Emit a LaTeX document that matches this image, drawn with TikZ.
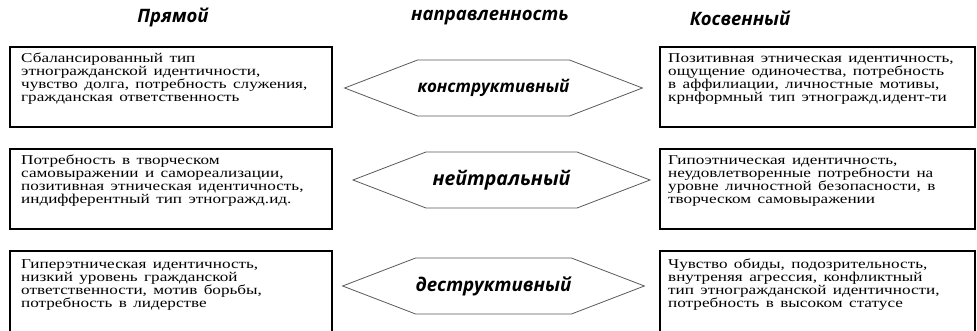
\documentclass[tikz,border=0pt]{standalone}
\usepackage{fontspec}
\setmainfont{Liberation Serif}
\newfontfamily\boxfont[FakeStretch=1.27,WordSpace={1.5,1.2,0.5}]{Liberation Serif}
\newfontfamily\headfont{Open Sans}
\usetikzlibrary{shapes.symbols}
\begin{document}
\begin{tikzpicture}[x=1pt,y=-1pt,
    frame/.style={draw,line width=2.4pt,minimum width=322pt,inner sep=0pt},
    hexlabel/.style={draw=black!65,line width=0.8pt,signal,signal to=west and east,
      signal pointer angle=42,minimum width=297pt,minimum height=56pt,inner sep=0pt,
      font=\headfont\bfseries\itshape\fontsize{17}{20}\selectfont},
    boxtext/.style={anchor=north west,align=left,inner sep=0pt,
      font=\boxfont\fontsize{13.5}{13}\selectfont},
    title/.style={font=\headfont\bfseries\itshape\fontsize{18.5}{22}\selectfont}]
      \useasboundingbox (0,0) rectangle (977,331);
      \clip (0,0) rectangle (977,331);
      \node[title] (p) at (173,18) {Прямой};
      \node[title] (n) at (490,18) {направленность};
      \node[title] (k) at (740,18) {Косвенный};
      \node[frame,minimum height=80pt] (l1) at (171,87) {};
      \node[frame,minimum height=80pt] (l2) at (171,189) {};
      \node[frame,minimum height=94pt] (l3) at (171,298) {};
      \node[frame,minimum width=315pt,minimum height=80pt] (r1) at (817.5,87) {};
      \node[frame,minimum width=315pt,minimum height=80pt] (r2) at (817.5,189) {};
      \node[frame,minimum width=315pt,minimum height=94pt] (r3) at (817.5,298) {};
      \node[hexlabel] (h1) at (493.5,88) {конструктивный};
      \node[hexlabel,font=\headfont\bfseries\itshape\fontsize{19.5}{22}\selectfont] (h2) at (501.5,180) {нейтральный};
      \node[hexlabel,font=\headfont\bfseries\itshape\fontsize{18.7}{22}\selectfont] (h3) at (493.5,286) {деструктивный};
      \node[boxtext] (t1) at (21,53) {Сбалансированный тип\\этногражданской идентичности,\\чувство долга, потребность служения,\\гражданская ответственность};
      \node[boxtext] (t2) at (21,155) {Потребность в творческом\\самовыражении и самореализации,\\позитивная этническая идентичность,\\индифферентный тип этногражд.ид.};
      \node[boxtext] (t3) at (21,259) {Гиперэтническая идентичность,\\низкий уровень гражданской\\ответственности, мотив борьбы,\\потребность в лидерстве};
      \node[boxtext] (t4) at (668,53) {Позитивная этническая идентичность,\\ощущение одиночества, потребность\\в аффилиации, личностные мотивы,\\крнформный тип этногражд.идент-ти};
      \node[boxtext] (t5) at (668,155) {Гипоэтническая идентичность,\\неудовлетворенные потребности на\\уровне личностной безопасности, в\\творческом самовыражении};
      \node[boxtext] (t6) at (668,259) {Чувство обиды, подозрительность,\\внутреняя агрессия, конфликтный\\тип этногражданской идентичности,\\потребность в высоком статусе};
    \end{tikzpicture}
\end{document}
